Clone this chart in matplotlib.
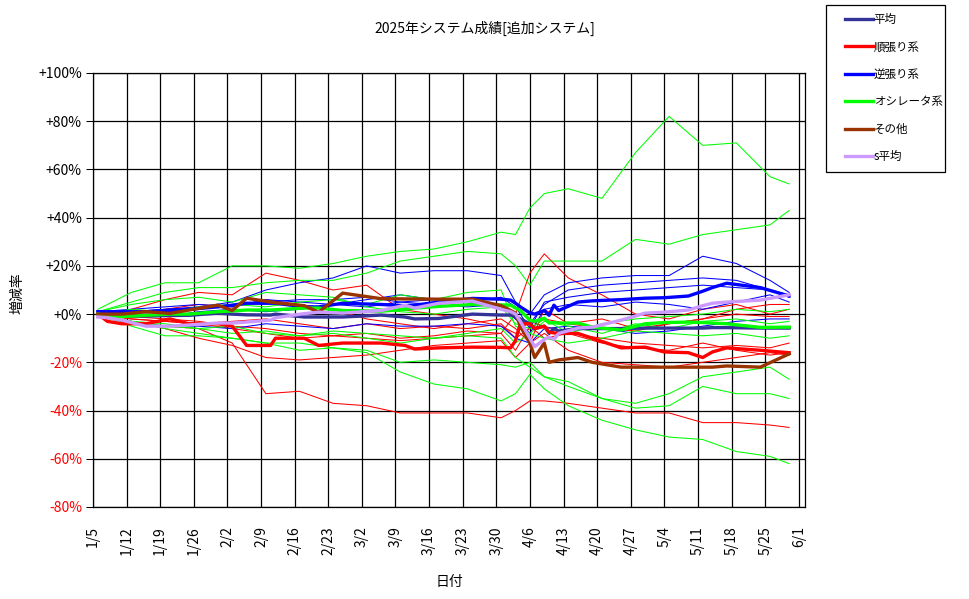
import datetime as dt
import matplotlib
matplotlib.use('Agg')
import matplotlib.pyplot as plt
from matplotlib.patches import Rectangle

plt.rcParams['font.family'] = ['Noto Sans CJK JP', 'DejaVu Sans']

start = dt.date(2025, 1, 5)

# days counted from 1/5
thin_days = [1, 8, 15, 22, 29, 36, 43, 50, 57, 64, 71, 78, 85, 88, 91, 94,
             99, 106, 113, 120, 127, 134, 141, 145]

# individual systems (%)
trend_thin = [
    [-1, -4, -5, -6, -12, -33, -32, -37, -38, -41, -41, -41, -43, -40, -36, -36, -37, -39, -41, -41, -45, -45, -46, -47],
    [0, -2, -3, -4, -6, -8, -10, -9, -10, -11, -10, -9, -8, 0, 17, 25, 15, 8, 0, -2, 2, 4, 0, 2],
    [0, 2, 6, 9, 8, 17, 14, 10, 12, 2, 0, -2, -5, -8, -3, -5, -8, -12, -14, -15, -12, -15, -17, -16],
    [-1, -3, -6, -10, -13, -18, -19, -18, -17, -15, -13, -12, -11, -18, -12, -8, -15, -20, -21, -22, -20, -18, -16, -17],
    [0, -1, -2, -3, -5, -6, -8, -9, -8, -10, -9, -7, -8, -15, -5, -10, -8, -10, -12, -13, -14, -13, -14, -12],
    [1, 0, 2, 4, 3, 6, 4, 2, -2, -4, -6, -4, -2, -6, -12, 2, -4, -2, -6, -4, -2, 0, -1, -1],
    [0, -2, -3, -4, -3, -2, -4, -6, -4, -6, -5, -6, -4, -10, -6, -2, -4, -6, -7, -4, -2, 2, 4, 4],
]
contra_thin = [
    [1, 1, 2, 3, 5, 10, 13, 15, 20, 17, 18, 18, 16, 5, 0, 8, 13, 15, 16, 16, 24, 21, 14, 9],
    [0, 1, 2, 2, 4, 5, 6, 6, 7, 5, 4, 3, 4, -2, -4, 4, 10, 12, 13, 14, 15, 14, 10, 7],
    [-1, -3, -5, -5, -6, -4, -5, -6, -4, -5, -5, -4, -5, -10, -12, -6, -5, -6, -8, -7, -5, -3, -2, -2],
    [1, 2, 3, 4, 3, 6, 5, 4, 6, 8, 6, 5, 7, 3, -6, 5, 7, 9, 10, 11, 12, 11, 10, 8],
    [0, 0, -1, 1, 2, 1, 2, 4, 3, 5, 6, 5, 4, -2, -8, 2, 4, 3, 5, 4, 2, 5, 8, 5],
]
osc_thin = [
    [2, 9, 13, 13, 20, 20, 19, 21, 24, 26, 27, 30, 34, 33, 44, 50, 52, 48, 67, 82, 70, 71, 57, 54],
    [1, 5, 9, 11, 11, 13, 14, 14, 17, 22, 24, 26, 25, 20, 12, 22, 22, 22, 31, 29, 33, 35, 37, 43],
    [0, -5, -9, -9, -10, -12, -15, -14, -16, -24, -29, -31, -36, -33, -25, -31, -38, -44, -48, -51, -52, -57, -59, -62],
    [0, -3, -6, -8, -10, -12, -12, -14, -15, -20, -19, -20, -21, -22, -20, -26, -30, -35, -39, -38, -30, -33, -33, -35],
    [-1, -3, -5, -6, -8, -7, -9, -8, -10, -12, -10, -9, -10, -18, -22, -26, -28, -35, -37, -33, -26, -24, -22, -27],
    [0, 2, 1, 3, 4, 3, 5, 6, 4, 8, 6, 9, 10, -5, -8, -3, -5, -8, -4, -6, -3, -2, -4, -3],
    [-1, -3, -4, -6, -5, -8, -9, -7, -8, -9, -10, -8, -6, -12, -8, -10, -12, -10, -7, -8, -9, -8, -10, -9],
    [1, 4, 6, 7, 5, 9, 8, 7, 3, 1, 0, 2, 3, -4, -6, -2, -8, -4, -2, -1, 0, 2, 1, 2],
]

# group averages
avg_days = [1, 3, 6, 11, 16, 20, 26, 29, 32, 37, 38, 44, 47, 52, 60, 65, 67, 72, 79, 85,
            87, 88, 89, 91, 92, 94, 95, 96, 97, 101, 104, 110, 115, 119, 124, 127, 129, 132, 139, 145]
avg_all = [0, -0.5, -0.8, -0.8, -0.6, -0.5, 0.4, 0, -0.3, -0.4, 0, -1.2, -1.2, -1.2, -0.4, -1.2, -2, -1.8, 0, -0.4,
           -0.4, -1, -2, -4, -6, -5, -8, -6, -7, -6, -6, -6, -5.8, -5.8, -5.8, -5.8, -5.6, -5.6, -5.8, -5.8]
avg_trend = [0, -3, -4, -4, -2, -4, -4, -5, -13, -13, -10, -10, -13, -12, -12, -13, -14.5, -14, -13.7, -13.8,
             -14, -11, -4, -4, -6, -5, -7.5, -7.8, -8, -8, -10, -14, -13.7, -15.7, -16, -18, -15.7, -14, -15, -16]
avg_contra = [1, 1, 1, 1, 1.5, 2, 3, 3.7, 4.5, 4.5, 4.5, 3, 3, 4.5, 4, 3.5, 3.7, 5, 6.5, 6.2,
              5.8, 4.5, 3, 0.5, 0, 1.5, -0.5, 3.7, 1.5, 5, 5.5, 6, 6.6, 6.8, 7.5, 9.5, 11, 12.8, 11, 7.5]
avg_osc = [0, -0.5, -1, -0.5, 0, 0, 1, 1.3, 1.7, 1.7, 1.8, 2.5, 2.5, 1.5, 1.2, 2, 2.5, 3.2, 4, 3.8,
           3.7, 2.5, 1.5, -2.5, -3, -1.7, -3.7, -3.5, -3.7, -3.7, -5.4, -6.6, -4, -3.5, -3.3, -3.5, -3.7, -4, -5.5, -5.4]
avg_other = [0, 0, 0, 1, 0.3, 1.7, 3.7, 1.5, 6.6, 5, 4.7, 3.5, 0.8, 8.7, 6.4, 6.3, 6.3, 6.2, 6.2, 3.5,
             1.5, 0.4, -5, -12, -18, -12, -20, -19.5, -19, -18, -20, -22, -22, -22, -22, -22, -22, -21.5, -22, -16.5]
avg_s = [-1.2, -1.5, -2.5, -5, -5, -4.5, -3.7, -3.7, -3.3, -2.5, -1.5, 0.2, 0.8, 0.4, 1.5, 3.7, 2.5, 4.5, 5.4, 2,
         1, 0, -3, -10, -13.5, -10.5, -9.5, -10.5, -8, -5.8, -5.4, -2.5, 0.4, 0.8, 1.7, 3.5, 4.5, 5, 5.8, 8]

legend_labels = ['平均', '順張り系', '逆張り系', 'オシレータ系', 'その他', 's平均']
avg_colors = ['#333399', '#ff0000', '#0000ff', '#00ff00', '#993300', '#cc99ff']

fig = plt.figure(figsize=(9.7, 5.99), dpi=100)
ax = fig.add_axes([93 / 970, 92 / 599, 712 / 970, 434 / 599])

for vals in trend_thin:
    ax.plot(thin_days, vals, color='#ff0000', lw=0.75)
for vals in contra_thin:
    ax.plot(thin_days, vals, color='#0000ff', lw=0.75)
for vals in osc_thin:
    ax.plot(thin_days, vals, color='#00ff00', lw=0.75)

handles = []
for vals, c, lab in zip([avg_all, avg_trend, avg_contra, avg_osc, avg_other, avg_s], avg_colors, legend_labels):
    h, = ax.plot(avg_days, vals, color=c, lw=2.4, label=lab)
    handles.append(h)

ax.set_xlim(0, 148.3)
ax.set_ylim(-80, 100)
xt = list(range(0, 148, 7))
ax.set_xticks(xt)
ax.set_xticklabels([f'{(start + dt.timedelta(days=d)).month}/{(start + dt.timedelta(days=d)).day}' for d in xt],
                   rotation=90, fontsize=10)
yt = list(range(-80, 101, 20))
ax.set_yticks(yt)
ax.set_yticklabels([f'{v}%' if v < 0 else f'+{v}%' for v in yt], fontsize=10)
for lab, v in zip(ax.get_yticklabels(), yt):
    if v < 0:
        lab.set_color('red')
ax.tick_params(axis='x', length=0, pad=14)
ax.tick_params(axis='y', length=5, width=0.75, pad=3)
ax.grid(color='black', lw=0.9)
ax.set_axisbelow(True)
for s in ax.spines.values():
    s.set_linewidth(0.9)

fig.text(0.5, 1 - 28 / 599, '2025年システム成績[追加システム]', ha='center', va='center', fontsize=10)
fig.text(17 / 970, 1 - 293 / 599, '増減率', rotation=90, ha='center', va='center', fontsize=10)
fig.text(449 / 970, 1 - 582 / 599, '日付', ha='center', va='center', fontsize=10)

# legend box drawn separately so its size matches the original
fig.patches.append(Rectangle((826 / 970, 1 - 172 / 599), 119 / 970, 167 / 599, transform=fig.transFigure,
                             facecolor='white', edgecolor='black', lw=0.9))
leg = fig.legend(handles, legend_labels, loc='upper left', bbox_to_anchor=(845 / 970, 1 - 13 / 599),
                 borderaxespad=0, borderpad=0, frameon=False, fontsize=8.3,
                 handlelength=2.4, handletextpad=0.1, labelspacing=1.25)

fig.savefig('out.png', dpi=100)
